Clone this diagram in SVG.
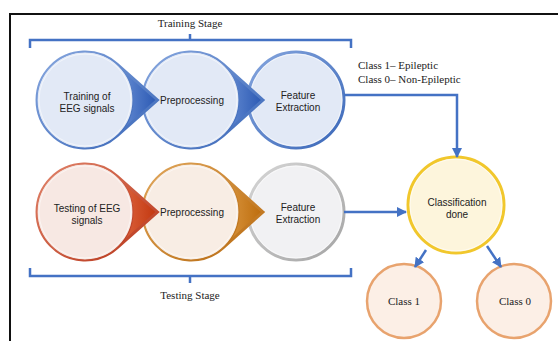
<svg xmlns="http://www.w3.org/2000/svg" width="558" height="341" viewBox="0 0 558 341">
  <defs>
    <linearGradient id="gBlueStroke" x1="0" y1="0" x2="1" y2="1">
      <stop offset="0" stop-color="#86a6de"/>
      <stop offset="1" stop-color="#3a67b8"/>
    </linearGradient>
    <linearGradient id="gBlueTip" x1="0" y1="0" x2="1" y2="0">
      <stop offset="0" stop-color="#6b91d6"/>
      <stop offset="1" stop-color="#2b59b3"/>
    </linearGradient>
    <linearGradient id="gRedStroke" x1="0" y1="0" x2="1" y2="1">
      <stop offset="0" stop-color="#e0836a"/>
      <stop offset="1" stop-color="#b8361a"/>
    </linearGradient>
    <linearGradient id="gRedTip" x1="0" y1="0" x2="1" y2="0">
      <stop offset="0" stop-color="#e06a45"/>
      <stop offset="1" stop-color="#c2370f"/>
    </linearGradient>
    <linearGradient id="gOrangeStroke" x1="0" y1="0" x2="1" y2="1">
      <stop offset="0" stop-color="#e0a65a"/>
      <stop offset="1" stop-color="#b86a10"/>
    </linearGradient>
    <linearGradient id="gOrangeTip" x1="0" y1="0" x2="1" y2="0">
      <stop offset="0" stop-color="#dc9a45"/>
      <stop offset="1" stop-color="#bd6c0c"/>
    </linearGradient>
    <linearGradient id="gGreyStroke" x1="0" y1="0" x2="1" y2="1">
      <stop offset="0" stop-color="#d6d6d6"/>
      <stop offset="1" stop-color="#a4a4a4"/>
    </linearGradient>
    <marker id="arrow" viewBox="0 0 10 10" refX="9" refY="5" markerWidth="4" markerHeight="4" orient="auto" markerUnits="strokeWidth">
      <path d="M0,0 L10,5 L0,10 Z" fill="#4472c4"/>
    </marker>
  </defs>
  <style>
    .lbl { font-family: "Liberation Sans", Arial, sans-serif; font-size: 10px; fill: #222; text-anchor: middle; }
    .ser { font-family: "Liberation Serif", "Times New Roman", serif; font-size: 11px; fill: #222; }
    .mid { text-anchor: middle; }
    .bracket { fill: none; stroke: #4472c4; stroke-width: 2.5; }
    .conn { fill: none; stroke: #4472c4; stroke-width: 2.5; marker-end: url(#arrow); }
    .inner { fill: none; stroke: #ffffff; stroke-opacity: 0.7; stroke-width: 0.8; }
  </style>

  <rect width="558" height="341" fill="#ffffff"/>
  <!-- frame -->
  <path d="M10,341 V14 H558" fill="none" stroke="#111" stroke-width="2"/>

  <!-- stage brackets -->
  <g id="training-stage">
    <path class="bracket" d="M30,48 V40 H351 V48 M190,40 V34"/>
    <text class="ser mid" x="190" y="27" font-size="11.5">Training Stage</text>
  </g>
  <g id="testing-stage">
    <path class="bracket" d="M30,268 V276 H351 V268 M190,276 V283"/>
    <text class="ser mid" x="190" y="299" font-size="11.5">Testing Stage</text>
  </g>

  <!-- top row (drawn right to left so each tip overlaps the next circle) -->
  <g id="train-feature">
    <circle cx="296" cy="100" r="48" fill="#e2e9f6" stroke="url(#gBlueStroke)" stroke-width="3"/>
    <circle class="inner" cx="296" cy="100" r="46"/>
    <text class="lbl" x="298" y="99">Feature</text>
    <text class="lbl" x="298" y="111">Extraction</text>
  </g>
  <g id="train-preprocessing">
    <path d="M222.5,64.2 L262.5,100 L222.5,135.8 A48,48 0 0 0 222.5,64.2 Z" fill="url(#gBlueTip)"/>
    <path d="M263,100 L223,64.2 A48,48 0 1 0 223,135.8 Z" fill="none" stroke="url(#gBlueStroke)" stroke-width="3" stroke-linejoin="miter"/>
    <circle cx="191" cy="100" r="48" fill="#e2e9f6"/>
    <circle cx="191" cy="100" r="48" fill="none" stroke="url(#gBlueStroke)" stroke-width="1.2"/>
    <circle class="inner" cx="191" cy="100" r="46"/>
    <text class="lbl" x="192" y="104">Preprocessing</text>
  </g>
  <g id="train-eeg">
    <path d="M117,64.2 L157,100 L117,135.8 A48,48 0 0 0 117,64.2 Z" fill="url(#gBlueTip)"/>
    <path d="M157.5,100 L117,64.2 A48,48 0 1 0 117,135.8 Z" fill="none" stroke="url(#gBlueStroke)" stroke-width="3"/>
    <circle cx="85" cy="100" r="48" fill="#e2e9f6"/>
    <circle cx="85" cy="100" r="48" fill="none" stroke="url(#gBlueStroke)" stroke-width="1.2"/>
    <circle class="inner" cx="85" cy="100" r="46"/>
    <text class="lbl" x="87" y="99.5">Training of</text>
    <text class="lbl" x="87" y="112">EEG signals</text>
  </g>

  <!-- bottom row -->
  <g id="test-feature">
    <circle cx="296" cy="212" r="48" fill="#f1f1f3" stroke="url(#gGreyStroke)" stroke-width="3"/>
    <circle class="inner" cx="296" cy="212" r="46"/>
    <text class="lbl" x="298" y="210.5">Feature</text>
    <text class="lbl" x="298" y="222.5">Extraction</text>
  </g>
  <g id="test-preprocessing">
    <path d="M222.5,176.2 L262.5,212 L222.5,247.8 A48,48 0 0 0 222.5,176.2 Z" fill="url(#gOrangeTip)"/>
    <path d="M263,212 L223,176.2 A48,48 0 1 0 223,247.8 Z" fill="none" stroke="url(#gOrangeStroke)" stroke-width="3"/>
    <circle cx="191" cy="212" r="48" fill="#f8ede4"/>
    <circle cx="191" cy="212" r="48" fill="none" stroke="url(#gOrangeStroke)" stroke-width="1.2"/>
    <circle class="inner" cx="191" cy="212" r="46"/>
    <text class="lbl" x="192" y="215.5">Preprocessing</text>
  </g>
  <g id="test-eeg">
    <path d="M117,176.2 L157,212 L117,247.8 A48,48 0 0 0 117,176.2 Z" fill="url(#gRedTip)"/>
    <path d="M157.5,212 L117,176.2 A48,48 0 1 0 117,247.8 Z" fill="none" stroke="url(#gRedStroke)" stroke-width="3"/>
    <circle cx="85" cy="212" r="48" fill="#f7e8e3"/>
    <circle cx="85" cy="212" r="48" fill="none" stroke="url(#gRedStroke)" stroke-width="1.2"/>
    <circle class="inner" cx="85" cy="212" r="46"/>
    <text class="lbl" x="87" y="211.5">Testing of EEG</text>
    <text class="lbl" x="87" y="223.5">signals</text>
  </g>

  <!-- legend -->
  <g id="legend">
    <text class="ser" x="358" y="69">Class 1– Epileptic</text>
    <text class="ser" x="358" y="82.5">Class 0– Non-Epileptic</text>
  </g>

  <!-- classifier and outputs -->
  <g id="classification">
    <circle cx="456" cy="205" r="48" fill="#fdf5dc" stroke="#f1c72c" stroke-width="3"/>
    <circle class="inner" cx="456" cy="205" r="46"/>
    <text class="lbl" x="457" y="205.5">Classification</text>
    <text class="lbl" x="457" y="217.5">done</text>
  </g>
  <g id="class1">
    <circle cx="404" cy="301" r="37" fill="#fcefe6" stroke="#e8a36e" stroke-width="2.5"/>
    <text class="ser mid" x="404" y="305">Class 1</text>
  </g>
  <g id="class0">
    <circle cx="514" cy="301" r="37" fill="#fcefe6" stroke="#e8a36e" stroke-width="2.5"/>
    <text class="ser mid" x="515" y="305">Class 0</text>
  </g>

  <!-- connectors -->
  <g id="connectors">
    <path class="conn" d="M344,95 H457 V157"/>
    <path class="conn" d="M344,212 H406"/>
    <path class="conn" d="M426,250 L415,267"/>
    <path class="conn" d="M487,246 L501,267"/>
  </g>
</svg>
